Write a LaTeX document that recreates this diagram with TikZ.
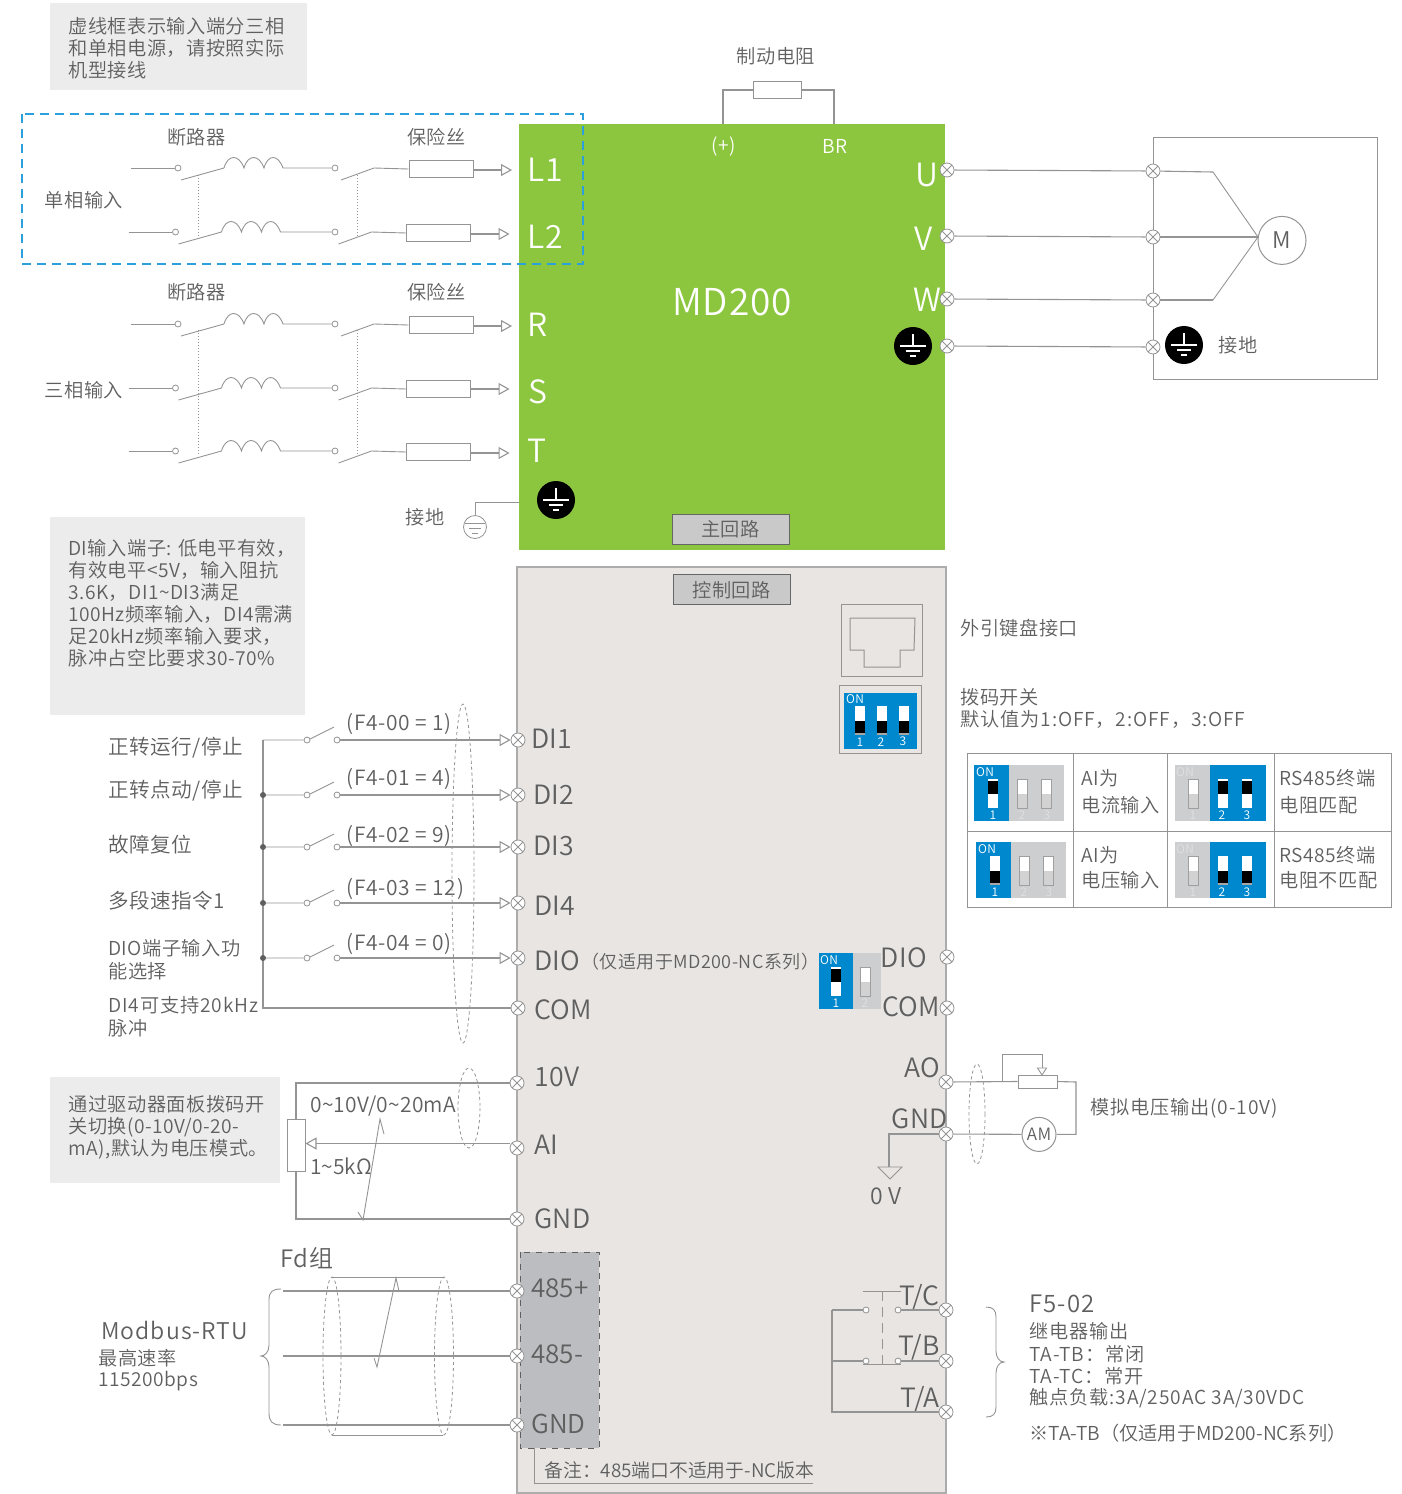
\documentclass[tikz,border=0pt]{standalone}
\usepackage{fontspec}
\setmainfont{Noto Sans CJK SC}[UprightFont=* DemiLight,BoldFont=*,LetterSpace=2.5]
\usepackage{xcolor}
\usetikzlibrary{arrows.meta,calc}
\definecolor{wire}{HTML}{949494}
\definecolor{txt}{HTML}{5F5F5F}
\definecolor{mdgreen}{HTML}{8CC63F}
\definecolor{panelbg}{HTML}{E8E5E3}
\definecolor{notebg}{HTML}{ECECEC}
\definecolor{dipblue}{HTML}{0088CE}
\definecolor{dipgrey}{HTML}{CDCED0}
\definecolor{boxgrey}{HTML}{BCBDC1}
\definecolor{dashblue}{HTML}{2BA0DC}
\newcommand{\wide}{\addfontfeature{LetterSpace=4.5}}
\newcommand{\tight}{\addfontfeature{LetterSpace=1}}
\newcommand{\flush}{\addfontfeature{LetterSpace=0}}
\tikzset{
  wires/.style={draw=wire,line width=0.55pt},
  thin wire/.style={draw=wire,line width=0.45pt},
  lbl/.style={inner sep=0pt,yshift=-0.2pt,text=txt,font=\fontsize{9.6}{11}\selectfont},
  lbll/.style={lbl,anchor=west},
  widel/.style={lbl,anchor=west,font=\fontsize{9.6}{11}\selectfont\wide},
  note/.style={lbl,anchor=north west,align=left},
  tag/.style={inner sep=0pt,yshift=-0.2pt,text=txt,font=\fontsize{13.3}{15}\selectfont\tight},
  tagl/.style={tag,anchor=west},
  tagr/.style={tag,anchor=east},
  fnl/.style={lbll,font=\fontsize{10.3}{12}\selectfont},
  midl/.style={tagl,font=\fontsize{10.5}{12}\selectfont},
  big/.style={inner sep=0pt,text=white,font=\fontsize{16}{18}\selectfont},
  term/.style={circle,draw=wire,line width=0.4pt,fill=white,minimum size=7pt,inner sep=0pt,
    path picture={\draw[wire,line width=0.4pt]
      (path picture bounding box.north west)--(path picture bounding box.south east)
      (path picture bounding box.south west)--(path picture bounding box.north east);}},
  openpt/.style={circle,draw=wire,line width=0.4pt,fill=white,minimum size=3pt,inner sep=0pt},
  dot/.style={circle,fill=txt,minimum size=3pt,inner sep=0pt},
  earth/.style={circle,fill=black,minimum size=19pt,inner sep=0pt,
    path picture={\draw[white,line width=0.7pt]
      (path picture bounding box.center) ++(0,-12) -- ++(0,12) ++(-13,0) -- ++(26,0)
      ++(-20,5) -- ++(14,0) ++(-10,5) -- ++(6,0);}},
  feed/.style={wires,-{Triangle[open,length=5.5pt,width=6pt]}},
  cable/.style={draw=wire,line width=0.4pt,dash pattern=on 1.6pt off 1.4pt},
  dipword/.style={inner sep=0pt,text=white,font=\fontsize{6}{7}\selectfont},
  dipdim/.style={inner sep=0pt,text=white!88!black,font=\fontsize{6}{7}\selectfont},
  hold/.style={draw=gray!80!black,line width=0.5pt,fill=gray!42,lbl,minimum width=58.5pt,minimum height=15pt},
}
% dip toggles: x centre, y top
\newcommand{\swup}[2]{\fill[white] (#1-5,#2) rectangle (#1+5,#2+29);
  \fill[black] (#1-5,#2+2) rectangle (#1+5,#2+15);}
\newcommand{\swdown}[2]{\fill[white] (#1-5,#2) rectangle (#1+5,#2+29);
  \fill[black] (#1-5,#2+15) rectangle (#1+5,#2+27);
  \fill[gray!70] (#1-5,#2+27) rectangle (#1+5,#2+29);}
\newcommand{\swoff}[2]{\fill[white] (#1-5,#2) rectangle (#1+5,#2+15);
  \fill[gray!35] (#1-5,#2+15) rectangle (#1+5,#2+29);
  \draw[gray!75,line width=0.3pt] (#1-5,#2) rectangle (#1+5,#2+29);}
% one blue then two grey
\newcommand{\dipa}[4]{
  \fill[dipblue] (#2,#3) rectangle (#2+35,#3+56);
  \fill[dipgrey] (#2+35,#3) rectangle (#2+90,#3+56);
  #4{#2+19}{#3+14} \swoff{#2+48}{#3+14} \swoff{#2+72}{#3+14}
  \node[dipword] at (#2+11,#3+7) (#1on) {ON};
  \node[dipword] at (#2+19,#3+50) (#1a) {1};
  \node[dipdim] at (#2+48,#3+50) (#1b) {2};
  \node[dipdim] at (#2+73,#3+50) (#1c) {3};
}
% one grey then two blue
\newcommand{\dipb}[4]{
  \fill[dipgrey] (#2,#3) rectangle (#2+35,#3+56);
  \fill[dipblue] (#2+35,#3) rectangle (#2+91,#3+56);
  \swoff{#2+18}{#3+14} #4{#2+48}{#3+14} #4{#2+72}{#3+14}
  \node[dipdim] at (#2+10,#3+7) (#1on) {ON};
  \node[dipdim] at (#2+18,#3+50) (#1a) {1};
  \node[dipword] at (#2+47,#3+50) (#1b) {2};
  \node[dipword] at (#2+72,#3+50) (#1c) {3};
}
\begin{document}
\begin{tikzpicture}[x=0.5pt,y=-0.5pt]
\useasboundingbox (0,0) rectangle (1402,1494);

% boards
\fill[mdgreen] (519,124) rectangle (945,550);
\filldraw[fill=panelbg,draw=gray!65,line width=0.6pt] (517,567) rectangle (946,1493);
\draw[dashblue,line width=0.6pt,dash pattern=on 4.5pt off 3pt] (22,114) rectangle (583,264);

% notes
\fill[notebg] (50,3) rectangle (307,90);
\fill[notebg] (50,517) rectangle (305,715);
\fill[notebg] (50,1077) rectangle (280,1183);
\node[note] at (68,16.4) (notea) {虚线框表示输入端分三相\\和单相电源，请按照实际\\机型接线};
\node[note] at (68,538.4) (noteb) {DI输入端子: 低电平有效，\\有效电平<5V，输入阻抗\\3.6K，DI1\textasciitilde DI3满足\\100Hz频率输入，DI4需满\\足20kHz频率输入要求，\\脉冲占空比要求30-70\%};
\node[note] at (68,1094.4) (notec) {通过驱动器面板拨码开\\关切换(0-10V/0-20-\\mA),默认为电压模式。};

% brake resistor
\node[lbl] at (776,56) (brname) {制动电阻};
\node[draw=wire,line width=0.5pt,minimum width=24pt,minimum height=8.5pt,inner sep=0pt] at (777,90) (brake) {};
\coordinate (plus) at (723,124);
\coordinate (br) at (834,124);
\draw[wires] (plus) |- (brake.west) (brake.east) -| (br);
\node[lbl,text=white] at (724,146) (plustxt) {(+)};
\node[lbl,text=white] at (835,146) (brtxt) {BR};

% input lines
\node[lbl] at (196.5,137) (qfa) {断路器};
\node[lbl] at (436.5,137) (fua) {保险丝};
\node[lbl] at (196.5,292) (qfb) {断路器};
\node[lbl] at (436.5,292) (fub) {保险丝};
\node[lbl] at (84,200) (inone) {单相输入};
\node[lbl] at (84,390) (inthree) {三相输入};
\foreach \n/\y/\d/\f in {ra/168/0/170,rb/232/-2.5/234,rc/324/0/326,rd/388/-2.5/389,re/451/-2.5/453}{
  \coordinate (\n0) at (131+\d,\y);
  \node[openpt] at (178+\d,\y) (\n1) {};
  \coordinate (\n2) at (224+\d,\y);
  \coordinate (\n3) at (283+\d,\y);
  \node[openpt] at (335,\y) (\n4) {};
  \coordinate (\n5) at (374+\d,\y);
  \node[draw=wire,line width=0.5pt,minimum width=32pt,minimum height=8.7pt,inner sep=0pt] at (441+\d,\y+1) (\n6) {};
  \coordinate (\n7) at (512+\d,\f);
  \draw[thin wire] (\n0) -- (\n1);
  \draw[thin wire] (181+\d,\y+12) -- (\n2);
  \draw[thin wire] (\n2) .. controls +(4,-14) and +(-5,-14) .. ++(20,0)
     .. controls +(4,-14) and +(-5,-14) .. ++(20,0)
     .. controls +(4,-14) and +(-5,-14) .. (\n3) -- (\n4);
  \draw[thin wire] (341+\d,\y+12) -- (\n5) -- (\n6.west);
  \draw[feed] (\n6.east |- \n7) -- (\n7);
}
\draw[wire,line width=0.5pt,densely dotted] (198,175) -- (198,238) (357,175) -- (357,238);
\draw[wire,line width=0.5pt,densely dotted] (198,330) -- (198,455) (357,330) -- (357,455);

% green labels
\node[big] at (545,170) (lone) {L1};
\node[big] at (545,237) (ltwo) {L2};
\node[big] at (538,325) (lr) {R};
\node[big] at (538,392) (ls) {S};
\node[big] at (537,451) (lt) {T};
\node[big] at (927,175) (lu) {U};
\node[big] at (924,239) (lv) {V};
\node[big] at (927,300) (lw) {W};
\node[inner sep=0pt,text=white,font=\fontsize{18.5}{20}\selectfont] at (732,302) (mdname) {MD200};
\node[hold] at (730.5,529) (mainc) {主回路};
\node[hold] at (731.5,589.5) (ctrlc) {控制回路};

% earth
\node[earth] at (556,500) (pea) {};
\node[earth] at (913,346) (peb) {};
\node[earth] at (1184,345) (pec) {};
\node[lbl] at (425,517) (eatxt) {接地};
\node[lbl] at (1238,345) (ectxt) {接地};
\coordinate (eastart) at (519,502);
\node[circle,draw=wire,line width=0.4pt,minimum size=11.5pt,inner sep=0pt] at (475,527) (eacan) {};
\draw[thin wire] (eastart) -| (eacan.north);
\draw[thin wire] (465,523) -- (485,523) (469,528) -- (481,528) (472,533) -- (478,533);

% motor
\draw[draw=wire,line width=0.5pt] (1153,137) rectangle (1377,379);
\node[circle,draw=wire,line width=0.5pt,tag,font=\fontsize{11.5}{13}\selectfont,minimum size=24pt] at (1282,240) (motor) {M};
\foreach \n/\y in {u/170,v/236,w/299,g/346}{
  \node[term] at (947,\y) (\n-out) {};
  \node[term] at (1153,\y+1) (\n-mot) {};
  \draw[wires] (\n-out) -- (\n-mot);
}
\coordinate (star) at (1258,237);
\coordinate (ubend) at (1213,172);
\coordinate (wbend) at (1213,300);
\draw[wires] (u-mot) -- (ubend);
\draw[thin wire] (ubend) -- (star) (wbend) -- (star);
\draw[wires] (v-mot) -- (star) (w-mot) -- (wbend);

% keypad port and dip
\draw[draw=wire,line width=0.5pt] (841,604) rectangle (922,676);
\draw[draw=wire,line width=0.5pt] (850,618) -- (915,618) -- (914,650) -- (900,650) -- (900,667) -- (864,667) -- (864,650) -- (850,650) -- cycle;
\node[lbll] at (960,628) (keytxt) {外引键盘接口};
\draw[draw=wire,fill=panelbg,line width=0.5pt] (839,685) rectangle (921,753);
\fill[dipblue] (844,693) rectangle (917,749);
\swdown{860}{706} \swdown{882}{706} \swdown{904}{706}
\node[dipword] at (855,699) (maion) {ON};
\node[dipword] at (860,742) (maia) {1};
\node[dipword] at (881,742) (maib) {2};
\node[dipword] at (903,741) (maic) {3};
\node[lbll] at (960,697) (diptxt) {拨码开关};
\node[widel] at (960,719) (deftxt) {默认值为1:OFF，2:OFF，3:OFF};

% dip table
\draw[draw=wire,line width=0.5pt] (967,753) rectangle (1391,907)
  (967,831) -- (1391,831) (1073,753) -- (1073,907) (1167,753) -- (1167,907) (1274,753) -- (1274,907);
\dipa{ca}{974}{765}{\swup}
\dipa{cc}{976}{842}{\swdown}
\dipb{cb}{1175}{765}{\swup}
\dipb{cd}{1175}{842}{\swdown}
\node[lbll] at (1081,778) (taba) {AI为};
\node[lbll] at (1081,805) (tabb) {电流输入};
\node[lbll] at (1081,855) (tabc) {AI为};
\node[lbll] at (1081,880) (tabd) {电压输入};
\node[lbll] at (1279,778) (tabe) {RS485终端};
\node[lbll] at (1279,805) (tabf) {电阻匹配};
\node[lbll] at (1279,855) (tabg) {RS485终端};
\node[lbll] at (1279,880) (tabh) {电阻不匹配};

% digital inputs
\foreach \n/\y/\d/\l/\t/\q/\c in {a/740/531/738/724/DI1/F4-00 = 1,b/795/533/794/779/DI2/F4-01 = 4,c/847/533/846/836/DI3/F4-02 = 9,d/903/534/905/889/DI4/F4-03 = 12,e/958/534/960/944/DIO/F4-04 = 0}{
  \node[term] at (518,\y) (di\n) {};
  \node[tagl] at (\d,\l) (di\n-txt) {\q};
  \coordinate (bus\n) at (263,\y);
  \node[openpt] at (307,\y) (swa\n) {};
  \node[openpt] at (337,\y) (swb\n) {};
  \draw[thin wire] (bus\n) -- (swa\n) (310,\y-1) -- (334,\y-13);
  \draw[feed] (swb\n) -- (di\n);
  \node[midl,font=\fontsize{10.5}{12}\selectfont\addfontfeature{LetterSpace=3.5}] at (346,\t) (f\n) {(\c)};
}
\node[term] at (518,1008) (dicom) {};
\node[tagl] at (534,1009) (dicomtxt) {COM};
\draw[wires] (busa) -- (busa |- dicom) -- (dicom);
\foreach \n in {b,c,d,e}{\node[dot] at (bus\n) (dot\n) {};}
\draw[cable] (463,873.5) ellipse (11 and 169.5);
\node[fnl] at (108,747) (fna) {正转运行/停止};
\node[fnl] at (108,790) (fnb) {正转点动/停止};
\node[fnl] at (108,844) (fnc) {故障复位};
\node[fnl] at (108,900) (fnd) {多段速指令1};
\node[lbll] at (108,948) (fne) {DIO端子输入功};
\node[lbll] at (108,971) (fnf) {能选择};
\node[widel] at (108,1005) (fng) {DI4可支持20kHz};
\node[lbll] at (108,1028) (fnh) {脉冲};
\node[lbll,font=\fontsize{9}{11}\selectfont] at (581,961) (ncnote) {（仅适用于MD200-NC系列）};

% dio selector
\fill[dipblue] (819,953) rectangle (853,1009);
\fill[dipgrey] (853,953) rectangle (881,1009);
\swup{836}{967} \swoff{865}{967}
\node[dipword] at (829,960) (sela) {ON};
\node[dipword] at (836,1003) (selb) {1};
\node[dipdim] at (865,1003) (selc) {2};
\node[term] at (947,957) (dior) {};
\node[term] at (947,1008) (comr) {};
\node[tagr] at (927,957) (diortxt) {DIO};
\node[tagr] at (940,1006) (comrtxt) {COM};

% analog input
\node[term] at (517,1083) (tten) {};
\node[term] at (517,1148) (tai) {};
\node[term] at (517,1219) (tgnd) {};
\node[tagl] at (534,1077) (ttentxt) {10V};
\node[tagl] at (534,1144) (taitxt) {AI};
\node[tagl] at (534,1218) (tgndtxt) {GND};
\node[draw=wire,fill=white,line width=0.5pt,minimum width=9pt,minimum height=26pt,inner sep=0pt] at (296,1145) (pot) {};
\coordinate (aiend) at (510,1143.5);
\draw[wires] (tten) -- (pot.north |- tten) -- (pot.north);
\draw[wires] (pot.south) |- (tgnd);
\draw[feed] (aiend) -- (pot.east |- aiend);
\node[midl,font=\fontsize{10.5}{12}\selectfont\tight] at (310,1106) (airange) {0\textasciitilde 10V/0\textasciitilde 20mA};
\node[midl,font=\fontsize{10.5}{12}\selectfont\flush] at (310,1166) (potval) {1\textasciitilde 5kΩ};
\draw[thin wire] (384,1134) -- (380,1119) -- (363,1220) -- (358,1212);
\draw[cable] (469,1108) ellipse (11 and 40);

% rs485
\fill[boxgrey] (520,1252) rectangle (599,1448);
\draw[txt,line width=0.4pt,dashed] (520,1252) rectangle (599,1448);
\coordinate (noteup) at (534,1448);
\coordinate (noteend) at (813,1483);
\draw[thin wire] (noteup) |- (noteend);
\node[lbll,font=\fontsize{9.4}{11}\selectfont\flush] at (544,1470) (notetxt) {备注：485端口不适用于-NC版本};
\foreach \n/\y/\ly/\q in {p/1291/1288/485+,m/1356/1354/485-,g/1425/1424/GND}{
  \node[term] at (517,\y) (rs\n) {};
  \coordinate (rsl\n) at (283,\y);
  \draw[wires] (rsl\n) -- (rs\n);
  \node[tagl,font=\fontsize{13}{15}\selectfont\flush] at (531,\ly) (rs\n-txt) {\q};
}
\draw[cable] (332,1356) ellipse (9 and 79);
\draw[cable] (444,1356) ellipse (9.5 and 79);
\draw[thin wire] (332,1277) -- (443,1277) (332,1435) -- (443,1435);
\draw[thin wire] (399,1291) -- (396,1278) -- (377,1367) -- (374,1358);
\draw[thin wire] (281,1289) .. controls (272,1289) and (269,1292) .. (269,1300) -- (269,1345)
  .. controls (269,1352) and (265,1356) .. (261,1356) .. controls (265,1356) and (269,1360) .. (269,1367)
  -- (269,1413) .. controls (269,1421) and (272,1425) .. (281,1425);
\node[tagl,font=\fontsize{12}{14}\selectfont] at (280,1258) (fdtxt) {Fd组};
\node[tagl,font=\fontsize{11.5}{14}\selectfont\wide] at (101,1330) (mbtxt) {Modbus-RTU};
\node[lbll] at (98,1358) (mbb) {最高速率};
\node[lbll] at (98,1381) (mbc) {115200bps};

% analog output
\node[term] at (946,1082) (tao) {};
\node[term] at (946,1134) (tg) {};
\node[tagr] at (940,1067) (taotxt) {AO};
\node[tagr] at (948,1118) (tgtxt) {GND};
\node[draw=wire,fill=white,line width=0.5pt,minimum width=19.5pt,minimum height=6.5pt,inner sep=0pt] at (1037.5,1081.5) (trim) {};
\node[circle,draw=wire,line width=0.5pt,tag,fill=white,font=\fontsize{8.5}{10}\selectfont,minimum size=17pt] at (1039,1134) (am) {AM};
\coordinate (bypass) at (1002,1082);
\coordinate (bytop) at (1042,1054);
\coordinate (outcor) at (1076,1082);
\draw[wires] (tao) -- (trim.west) (trim.east) -- (outcor) |- (am) (am) -- (tg);
\draw[thin wire] (bypass) |- (bytop) -- (1042,1068);
\draw[thin wire,fill=white] (1037.5,1068) -- (1046.5,1068) -- (1042,1075) -- cycle;
\node[widel] at (1090,1108) (aotxt) {模拟电压输出(0-10V)};
\draw[cable] (977,1114) ellipse (8 and 50);
\coordinate (zerov) at (889,1167);
\draw[wires] (tg) -| (zerov);
\draw[thin wire] (878,1167) -- (902,1167) -- (890,1179) -- cycle;
\node[lbl,font=\fontsize{11.5}{14}\selectfont\wide] at (886,1196) (zerotxt) {0 V};

% relay
\node[term] at (946,1310) (ttc) {};
\node[term] at (946,1361) (ttb) {};
\node[term] at (946,1412) (tta) {};
\node[tagr] at (940,1297) (ttctxt) {T/C};
\node[tagr] at (940,1347) (ttbtxt) {T/B};
\node[tagr] at (940,1399) (ttatxt) {T/A};
\node[openpt] at (866,1310) (rca) {};
\node[openpt] at (898,1310) (rcb) {};
\node[openpt] at (866,1361) (rba) {};
\node[openpt] at (898,1361) (rbb) {};
\coordinate (rail) at (832,1310);
\draw[wires] (rail) -- (rca) (rcb) -- (ttc);
\draw[wires] (rail) |- (tta);
\draw[wires] (rail |- rba) -- (rba) (rbb) -- (ttb);
\draw[thin wire] (863,1364) -- (901,1364);
\draw[thin wire] (863,1291) -- (901,1291);
\draw[thin wire,dash pattern=on 5pt off 3pt] (882,1291) -- (882,1364);
\draw[thin wire] (986,1307) .. controls (993,1307) and (996,1310) .. (996,1317) -- (996,1351)
  .. controls (996,1357) and (999,1362) .. (1004,1362) .. controls (999,1362) and (996,1367) .. (996,1373)
  -- (996,1407) .. controls (996,1414) and (993,1417) .. (986,1417);
\node[tagl,font=\fontsize{12}{14}\selectfont\wide] at (1029,1303) (fivetxt) {F5-02};
\node[widel] at (1029,1331) (rla) {继电器输出};
\node[widel] at (1029,1354) (rlb) {TA-TB：常闭};
\node[widel] at (1029,1376) (rlc) {TA-TC：常开};
\node[widel] at (1029,1398) (rld) {触点负载:3A/250AC 3A/30VDC};
\node[lbll,font=\fontsize{9.6}{11}\selectfont\flush] at (1029,1433) (rle) {※TA-TB（仅适用于MD200-NC系列）};
\end{tikzpicture}
\end{document}
